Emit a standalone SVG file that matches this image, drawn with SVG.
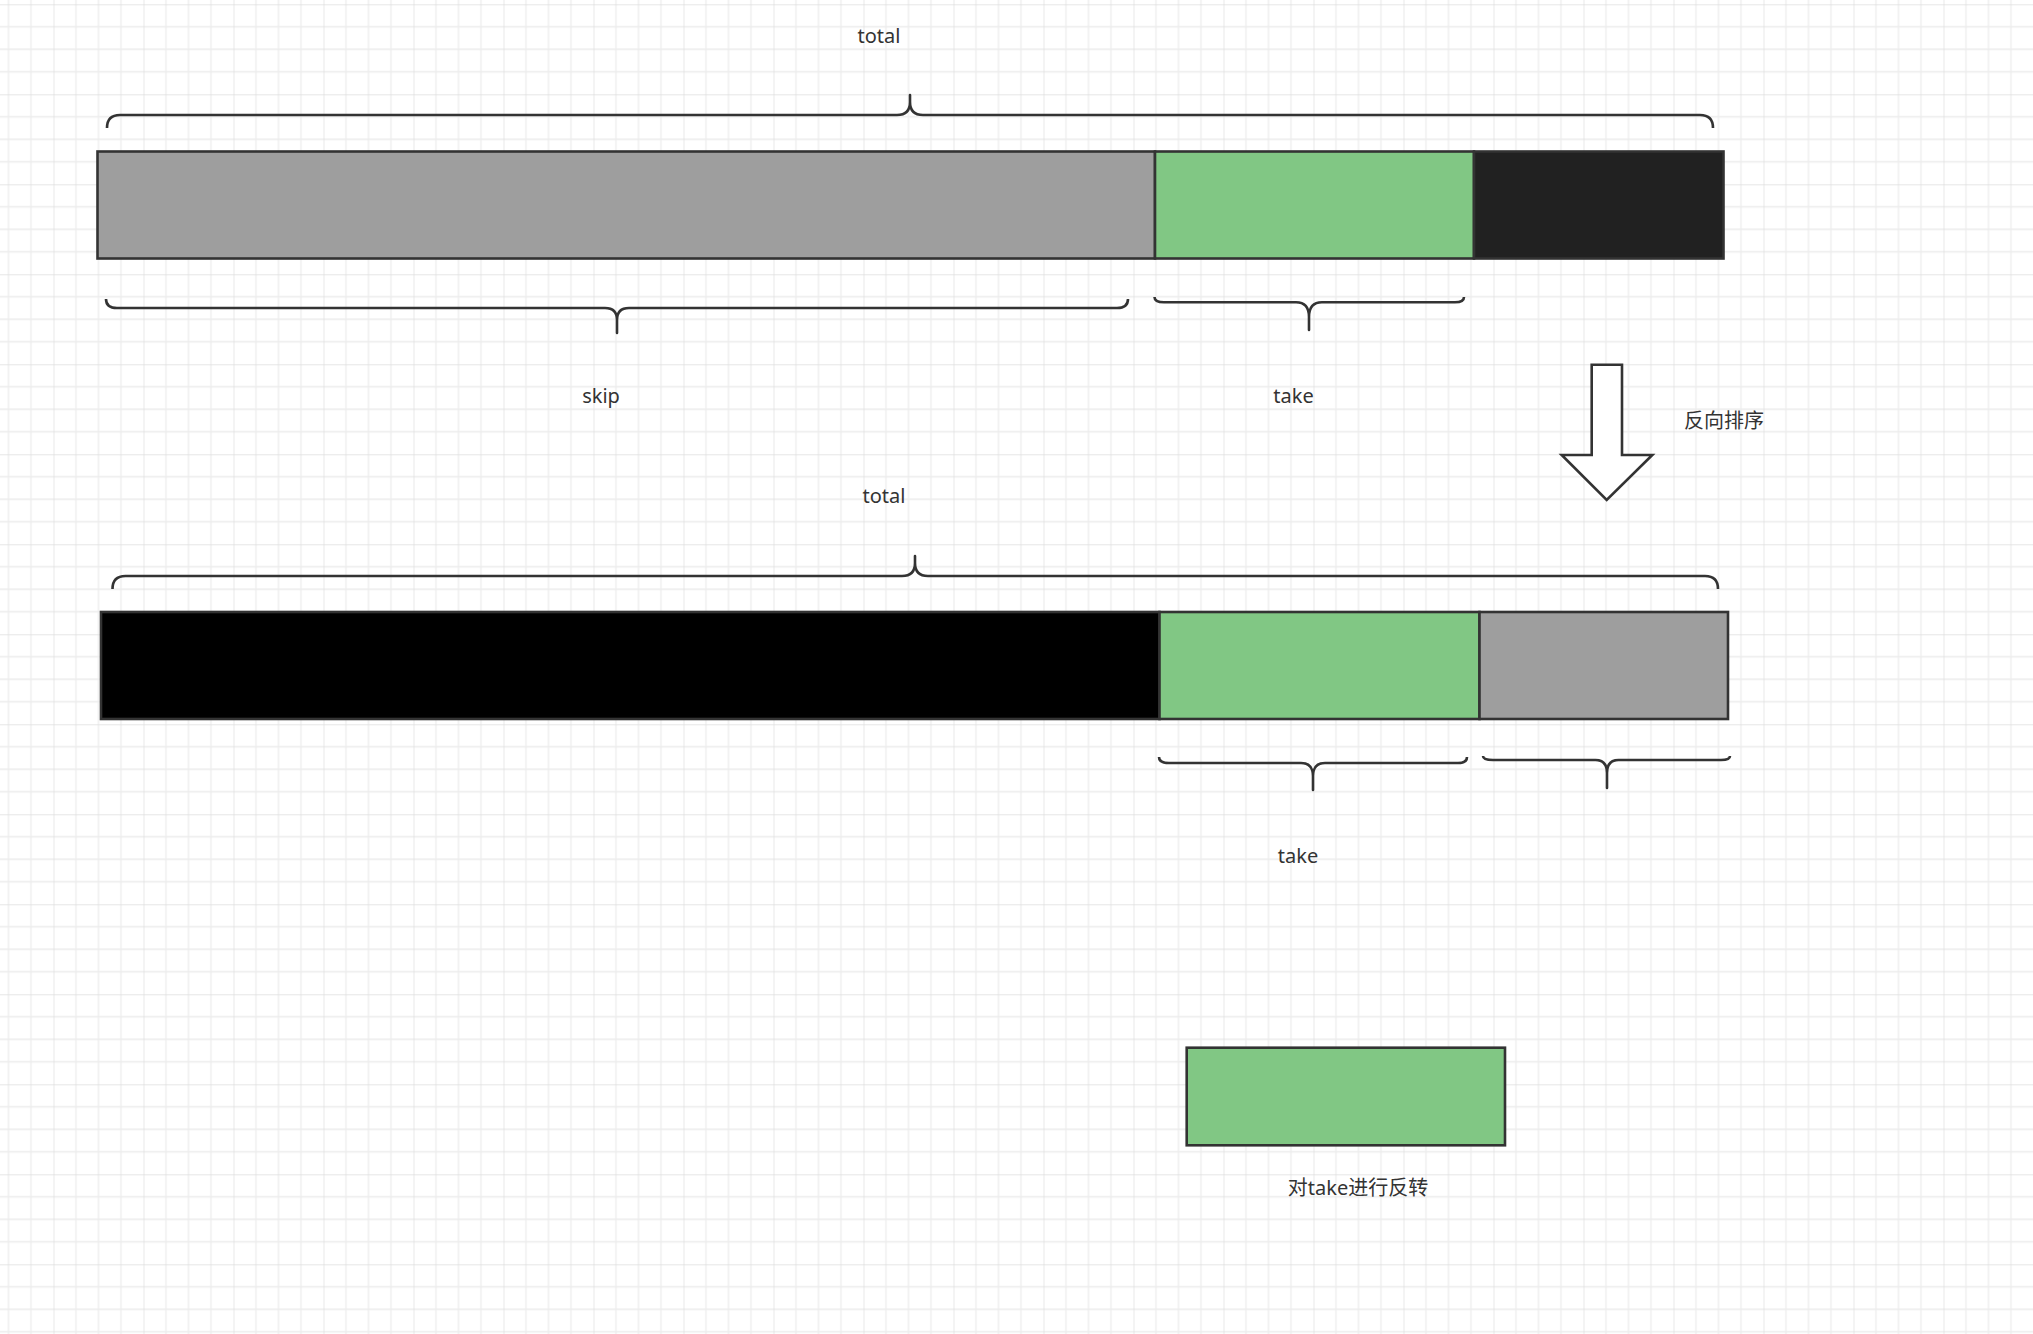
<svg xmlns="http://www.w3.org/2000/svg" width="2033" height="1334" viewBox="0 0 2033 1334">
  <style>
    .box { stroke: #333333; stroke-width: 2.6; }
    .gray { fill: #9E9E9E; }
    .green { fill: #81C784; }
    .dark { fill: #212121; }
    .black { fill: #000000; }
    .brace { fill: none; stroke: #333333; stroke-width: 2.6; stroke-linejoin: round; stroke-linecap: butt; }
    .lbl { font-family: "Noto Sans", "Noto Sans CJK SC", sans-serif; font-size: 20px; fill: #333333; text-anchor: middle; }
  </style>
  <defs>
    <pattern id="grid" x="53.5" y="4.3" width="90" height="90" patternUnits="userSpaceOnUse">
      <path d="M22.5,0 V90 M45,0 V90 M67.5,0 V90 M0,22.5 H90 M0,45 H90 M0,67.5 H90" stroke="#ececec" stroke-width="1.3" fill="none"/>
      <path d="M0,0 V90 M0,0 H90" stroke="#dedede" stroke-width="1.3" fill="none"/>
    </pattern>
  </defs>
  <rect x="0" y="0" width="2033" height="1334" fill="#ffffff"/>
  <rect x="0" y="0" width="2033" height="1334" fill="url(#grid)"/>

  <g id="row1">
    <g id="row1-skip"><rect class="box gray" x="97.5" y="151.5" width="1057.5" height="107"/></g>
    <g id="row1-take"><rect class="box green" x="1155" y="151.5" width="319" height="107"/></g>
    <g id="row1-rest"><rect class="box dark" x="1474" y="151.5" width="249.5" height="107"/></g>
  </g>

  <g id="row2">
    <g id="row2-rest"><rect class="box black" x="101" y="612" width="1058.5" height="107"/></g>
    <g id="row2-take"><rect class="box green" x="1159.5" y="612" width="320" height="107"/></g>
    <g id="row2-skip"><rect class="box gray" x="1479.5" y="612" width="248.5" height="107"/></g>
  </g>

  <g id="result">
    <rect class="box green" x="1186.7" y="1047.7" width="318.3" height="97.6"/>
  </g>

  <g id="braces">
    <path class="brace" d="M107,128 Q107,115 120,115 H897 Q910,115 910,102 V95 V102 Q910,115 923,115 H1700 Q1713,115 1713,128"/>
    <path class="brace" d="M106,299 Q106,308 117,308 H605 Q617,308 617,320 V333 V320 Q617,308 629,308 H1117 Q1128,308 1128,299"/>
    <path class="brace" d="M1154.5,297 Q1154.5,302.3 1164,302.3 H1296 Q1309,302.3 1309,317 V330 V317 Q1309,302.3 1322,302.3 H1455 Q1464,302.3 1464,297"/>
    <path class="brace" d="M112.5,589 Q112.5,576 125.5,576 H902 Q915,576 915,563 V556 V563 Q915,576 928,576 H1705 Q1718,576 1718,589"/>
    <path class="brace" d="M1159,757 Q1159,763 1169,763 H1301 Q1313,763 1313,776 V790 V776 Q1313,763 1325,763 H1458 Q1467,763 1467,757"/>
    <path class="brace" d="M1483,756 Q1483,760 1493,760 H1595.5 Q1607,760 1607,773 V788 V773 Q1607,760 1618.5,760 H1721 Q1730,760 1730,756"/>
  </g>

  <g id="arrow">
    <path d="M1591.7,364.7 H1622 V455 H1652.3 L1606.7,500 L1561.7,455 H1591.7 Z" fill="#ffffff" stroke="#333333" stroke-width="2.6" stroke-linejoin="miter"/>
  </g>

  <g id="labels">
    <text class="lbl" x="879" y="43">total</text>
    <text class="lbl" x="601" y="403">skip</text>
    <text class="lbl" x="1293.5" y="403">take</text>
    <text class="lbl" x="1724" y="428">反向排序</text>
    <text class="lbl" x="884" y="503">total</text>
    <text class="lbl" x="1298" y="863">take</text>
    <text class="lbl" x="1358" y="1195">对take进行反转</text>
  </g>
</svg>
